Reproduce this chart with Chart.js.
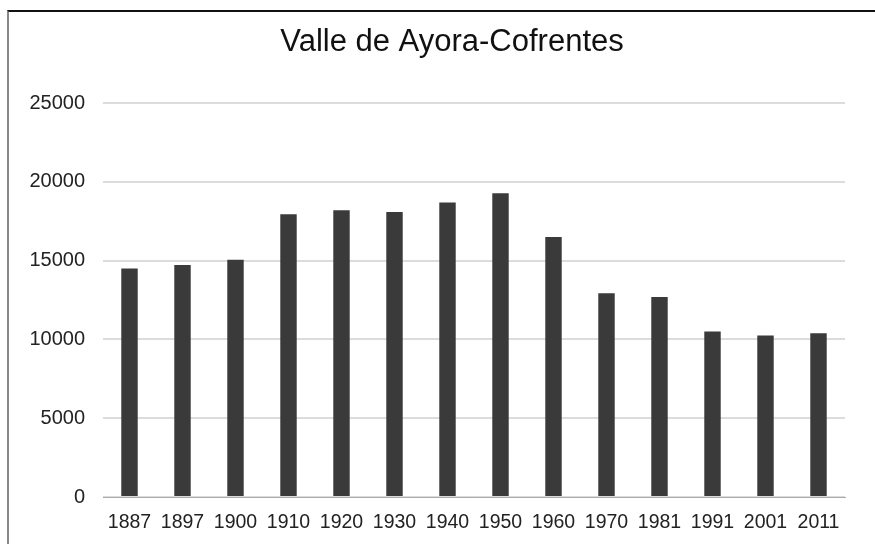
<!DOCTYPE html>
<html>
<head>
<meta charset="utf-8">
<script src="https://cdn.jsdelivr.net/npm/chart.js@4"></script>
<style>
  html, body { margin: 0; padding: 0; background: #fff; }
  #wrap { position: relative; width: 875px; height: 544px; }
  #frame { position: absolute; left: 7px; top: 10px; right: 0; bottom: 0;
           border-top: 2px solid #111; border-left: 2px solid #888; }
  canvas { position: absolute; left: 0; top: 0; }
</style>
</head>
<body>
<div id="wrap">
  <div id="frame"></div>
  <canvas id="chart" width="875" height="544"></canvas>
</div>
<script>
const years = ['1887', '1897', '1900', '1910', '1920', '1930', '1940', '1950', '1960', '1970', '1981', '1991', '2001', '2011'];
const population = [14500, 14730, 15060, 17950, 18200, 18100, 18690, 19280, 16500, 12930, 12700, 10510, 10250, 10400];
const yTicks = [0, 5000, 10000, 15000, 20000, 25000];

const fontFamily = '"Liberation Sans", Arial, Helvetica, sans-serif';

new Chart(document.getElementById('chart'), {
    type: 'bar',
    data: {
        labels: years,
        datasets: [{
            label: 'Población',
            data: population,
            backgroundColor: '#3a3a3a',
            borderWidth: 0,
            categoryPercentage: 1,
            barPercentage: 0.31
        }]
    },
    options: {
        responsive: false,
        animation: false,
        layout: { padding: { left: 29, right: 0, top: 10, bottom: 0 } },
        plugins: {
            legend: { display: false },
            tooltip: { enabled: false },
            title: {
                display: true,
                text: 'Valle de Ayora-Cofrentes',
                color: '#111',
                font: { family: fontFamily, size: 31, weight: 'normal' },
                padding: { top: 14, bottom: 42 }
            }
        },
        scales: {
            x: {
                grid: { display: false, drawTicks: false },
                border: { display: true, color: '#aaa', width: 1 },
                ticks: {
                    color: '#222',
                    padding: 14,
                    maxRotation: 0,
                    autoSkip: false,
                    font: { family: fontFamily, size: 19.5 }
                },
                afterFit: axis => { axis.height = 47; }
            },
            y: {
                min: 0,
                max: 25000,
                afterBuildTicks: axis => { axis.ticks = yTicks.map(v => ({ value: v })); },
                grid: { color: '#dcdcdc', lineWidth: 2, drawTicks: false },
                border: { display: false },
                ticks: {
                    color: '#222',
                    padding: 18,
                    font: { family: fontFamily, size: 20 },
                    callback: v => String(v)
                },
                afterFit: axis => { axis.width = 74; }
            },
            // empty right-hand strip so the plot ends where the reference does
            yRight: {
                position: 'right',
                grid: { display: false, drawTicks: false },
                border: { display: false },
                ticks: { display: false },
                afterFit: axis => { axis.width = 30; }
            }
        }
    }
});
</script>
</body>
</html>
